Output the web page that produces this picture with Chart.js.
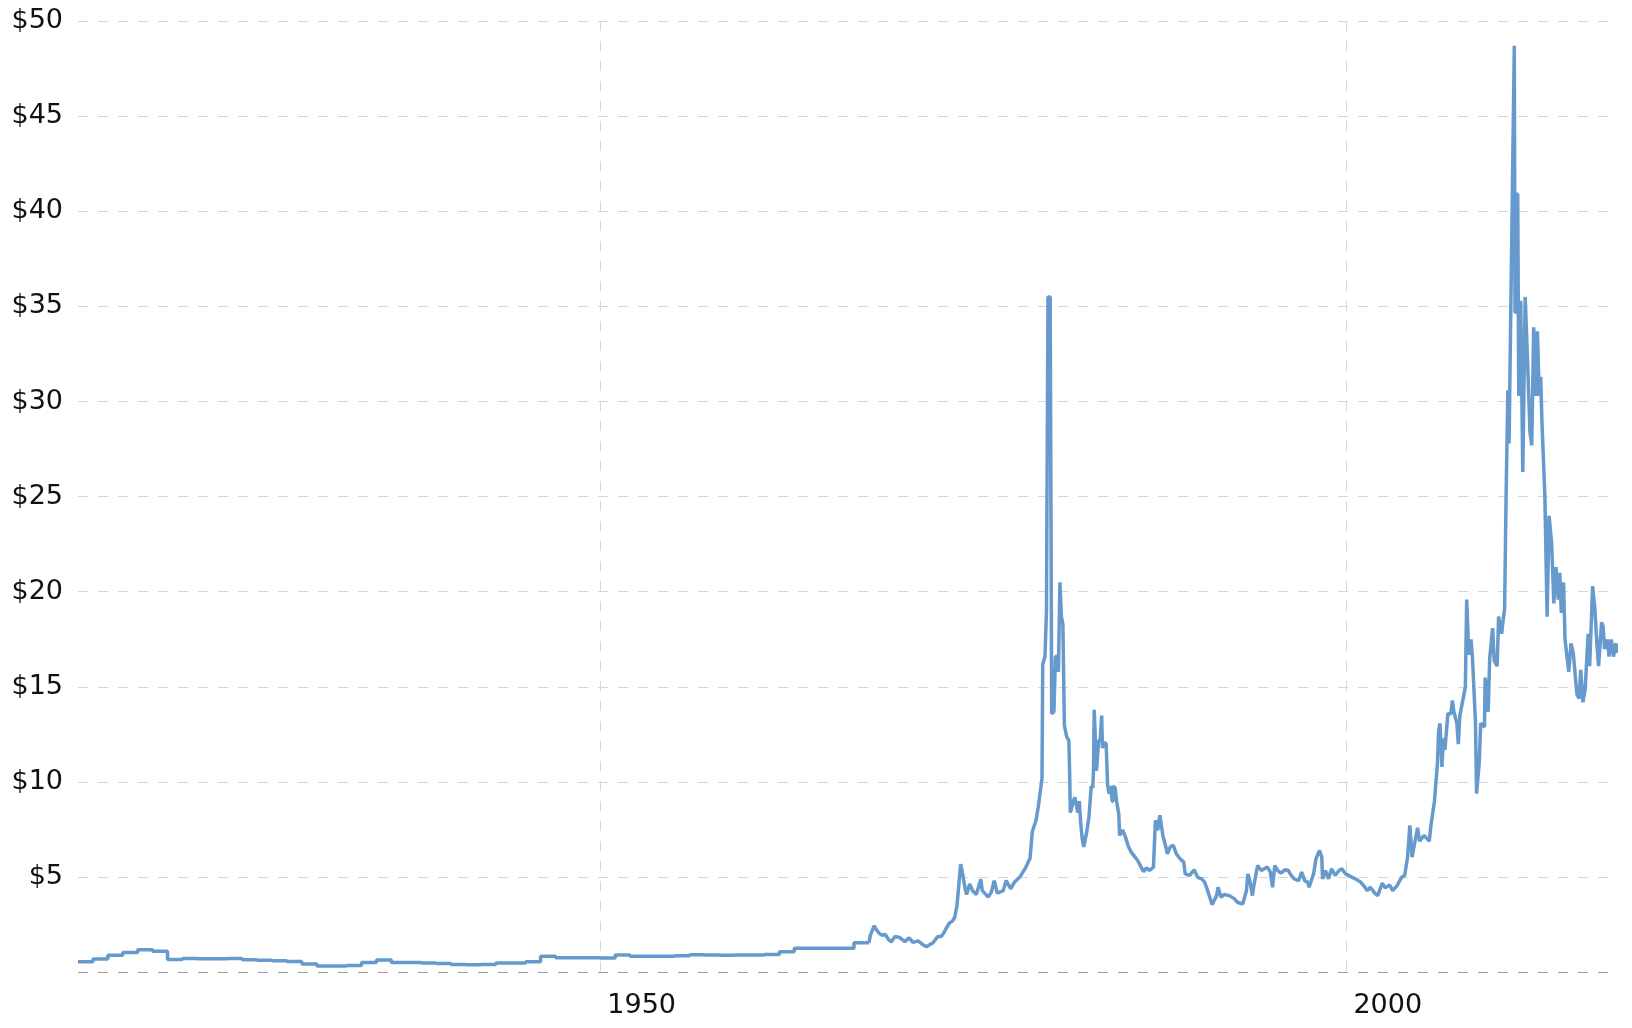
<!DOCTYPE html>
<html>
<head>
<meta charset="utf-8">
<script src="https://cdn.jsdelivr.net/npm/chart.js@4.4.1/dist/chart.umd.min.js"></script>
<style>
  html, body { margin: 0; padding: 0; background: #fff; }
  #wrap { width: 1632px; height: 1028px; }
</style>
</head>
<body>
<div id="wrap"><canvas id="silver-chart"></canvas></div>
<script>
// tick values
const xTicks = [1950, 2000];
const yTicks = [0, 5, 10, 15, 20, 25, 30, 35, 40, 45, 50];

// yearly prices 1915-1968 (drawn as steps)
const annualYears = [1915, 1916, 1917, 1918, 1919, 1920, 1921, 1922, 1923, 1924,
  1925, 1926, 1927, 1928, 1929, 1930, 1931, 1932, 1933, 1934,
  1935, 1936, 1937, 1938, 1939, 1940, 1941, 1942, 1943, 1944,
  1945, 1946, 1947, 1948, 1949, 1950, 1951, 1952, 1953, 1954,
  1955, 1956, 1957, 1958, 1959, 1960, 1961, 1962, 1963, 1964,
  1965, 1966, 1967, 1968];
const annualPrices = [0.56, 0.71, 0.90, 1.05, 1.20, 1.12, 0.68, 0.73, 0.72, 0.72,
  0.73, 0.67, 0.64, 0.62, 0.58, 0.45, 0.34, 0.34, 0.37, 0.52,
  0.66, 0.52, 0.52, 0.50, 0.47, 0.42, 0.41, 0.42, 0.50, 0.50,
  0.56, 0.86, 0.77, 0.78, 0.77, 0.76, 0.92, 0.85, 0.86, 0.86,
  0.88, 0.93, 0.92, 0.90, 0.92, 0.92, 0.94, 1.09, 1.28, 1.28,
  1.28, 1.28, 1.56, 1.56];

// [year, price]
const prices1968 = [[1968.0, 1.56], [1968.1, 1.96], [1968.35, 2.45], [1968.5, 2.25], [1968.7, 2.05],
  [1968.9, 1.96], [1969.1, 2.0], [1969.3, 1.75], [1969.5, 1.6], [1969.75, 1.9], [1970.05, 1.84],
  [1970.4, 1.62], [1970.7, 1.82], [1970.95, 1.58], [1971.3, 1.66], [1971.55, 1.5], [1971.85, 1.35],
  [1972.3, 1.56], [1972.6, 1.88], [1972.85, 1.9], [1973.0, 2.05], [1973.2, 2.35], [1973.4, 2.6],
  [1973.6, 2.7], [1973.75, 2.9], [1973.9, 3.5], [1974.05, 4.8], [1974.15, 5.7], [1974.3, 5.1],
  [1974.45, 4.4], [1974.55, 4.1], [1974.75, 4.65], [1974.95, 4.3], [1975.2, 4.1], [1975.5, 4.9],
  [1975.6, 4.3], [1976.0, 3.96], [1976.2, 4.22], [1976.4, 4.83], [1976.6, 4.17], [1977.0, 4.3],
  [1977.2, 4.83], [1977.5, 4.4], [1977.75, 4.74], [1978.1, 5.0], [1978.5, 5.5], [1978.8, 6.0],
  [1978.95, 7.4], [1979.2, 8.0], [1979.35, 8.7], [1979.45, 9.3], [1979.6, 10.2], [1979.65, 16.2],
  [1979.8, 16.6], [1979.9, 19.0], [1980.0, 35.5], [1980.15, 35.5], [1980.25, 13.6], [1980.4, 13.7],
  [1980.5, 16.6], [1980.6, 16.6], [1980.7, 15.8], [1980.8, 20.5], [1980.9, 18.7], [1981.0, 18.3],
  [1981.1, 13.0], [1981.25, 12.4], [1981.4, 12.2], [1981.45, 10.6], [1981.5, 8.4], [1981.7, 9.0],
  [1981.8, 9.2], [1982.0, 8.4], [1982.1, 9.0], [1982.2, 7.8], [1982.3, 7.0], [1982.4, 6.6],
  [1982.6, 7.4], [1982.75, 8.2], [1982.9, 9.8], [1983.0, 9.7], [1983.05, 10.6], [1983.1, 13.8],
  [1983.25, 10.6], [1983.4, 12.2], [1983.5, 12.2], [1983.6, 13.5], [1983.65, 11.8], [1983.8, 12.1],
  [1983.9, 12.0], [1984.0, 9.8], [1984.1, 9.4], [1984.2, 9.8], [1984.3, 9.0], [1984.35, 9.8],
  [1984.5, 9.7], [1984.6, 9.0], [1984.75, 8.3], [1984.8, 7.2], [1985.0, 7.5], [1985.2, 7.1],
  [1985.4, 6.6], [1985.6, 6.3], [1985.8, 6.1], [1986.0, 5.9], [1986.2, 5.6], [1986.4, 5.3],
  [1986.6, 5.5], [1986.8, 5.36]];

const prices1987 = [[1987.07, 5.54], [1987.2, 8.0], [1987.36, 7.47], [1987.5, 8.26], [1987.7, 7.2],
  [1987.9, 6.6], [1988.0, 6.24], [1988.2, 6.6], [1988.4, 6.68], [1988.6, 6.24], [1988.85, 5.98],
  [1989.1, 5.8], [1989.2, 5.18], [1989.5, 5.1], [1989.8, 5.4], [1990.03, 5.0], [1990.3, 4.92],
  [1990.5, 4.75], [1990.7, 4.3], [1991.0, 3.57], [1991.3, 4.04], [1991.4, 4.48], [1991.6, 3.95],
  [1991.8, 4.1], [1992.16, 4.04], [1992.5, 3.87], [1992.7, 3.69], [1993.05, 3.6], [1993.3, 4.3],
  [1993.4, 5.18], [1993.55, 4.75], [1993.7, 4.04], [1993.8, 4.57], [1994.05, 5.62], [1994.3, 5.36],
  [1994.5, 5.45], [1994.7, 5.54], [1994.9, 5.27], [1995.05, 4.48], [1995.2, 5.62], [1995.4, 5.36],
  [1995.6, 5.22], [1995.9, 5.4], [1996.1, 5.36], [1996.3, 5.1], [1996.5, 4.92], [1996.8, 4.83],
  [1997.0, 5.27], [1997.2, 4.83], [1997.4, 4.75], [1997.5, 4.48], [1997.8, 5.18], [1997.96, 5.98],
  [1998.2, 6.41], [1998.35, 6.06], [1998.4, 4.92], [1998.6, 5.36], [1998.8, 4.92], [1999.0, 5.45],
  [1999.25, 5.1], [1999.5, 5.36], [1999.7, 5.45], [1999.95, 5.18], [2000.3, 5.04], [2000.6, 4.92],
  [2000.95, 4.75], [2001.2, 4.52], [2001.4, 4.3], [2001.6, 4.48], [2001.9, 4.17], [2002.1, 4.04],
  [2002.4, 4.7], [2002.6, 4.45], [2002.9, 4.6], [2003.1, 4.3], [2003.4, 4.57], [2003.7, 5.0],
  [2003.9, 5.1], [2004.1, 6.06], [2004.25, 7.73], [2004.4, 6.06]];

const prices2004 = [[2004.55, 6.7], [2004.77, 7.6], [2004.9, 6.9], [2005.2, 7.2], [2005.55, 6.9],
  [2005.66, 7.7], [2005.9, 9.0], [2006.1, 11.0], [2006.18, 12.7], [2006.27, 13.1], [2006.4, 10.8],
  [2006.5, 12.3], [2006.6, 11.7], [2006.8, 13.6], [2007.0, 13.6], [2007.1, 14.3], [2007.2, 13.7],
  [2007.4, 13.1], [2007.5, 12.0], [2007.6, 13.5], [2007.8, 14.3], [2007.97, 15.0], [2008.06, 19.6],
  [2008.2, 16.7], [2008.35, 17.5], [2008.45, 16.5], [2008.65, 13.1], [2008.72, 9.4], [2008.9, 11.0],
  [2009.0, 13.1], [2009.25, 12.9], [2009.3, 15.5], [2009.5, 13.7], [2009.6, 16.5], [2009.8, 18.1],
  [2009.9, 16.4], [2010.1, 16.1], [2010.2, 18.7], [2010.4, 17.8], [2010.5, 18.5], [2010.6, 19.1],
  [2010.7, 25.0], [2010.82, 30.6], [2010.9, 27.8], [2011.25, 48.7], [2011.3, 34.7], [2011.35, 40.9],
  [2011.48, 40.9], [2011.55, 30.3], [2011.68, 35.3], [2011.82, 26.3], [2011.98, 35.5], [2012.15, 31.9],
  [2012.3, 28.4], [2012.42, 27.7], [2012.55, 33.9], [2012.68, 30.3], [2012.8, 33.7], [2012.92, 30.3],
  [2013.02, 31.3], [2013.1, 29.0], [2013.3, 25.0], [2013.45, 18.7], [2013.58, 24.0], [2013.75, 22.6],
  [2013.9, 19.4], [2014.05, 21.3], [2014.2, 19.6], [2014.3, 21.0], [2014.4, 18.9], [2014.55, 20.5],
  [2014.65, 17.5], [2014.9, 15.8], [2015.05, 17.3], [2015.2, 16.8], [2015.45, 14.6], [2015.6, 14.4],
  [2015.7, 15.9], [2015.85, 14.2], [2016.0, 14.9], [2016.2, 17.8], [2016.3, 16.1], [2016.5, 20.3],
  [2016.65, 19.1], [2016.8, 17.1], [2016.9, 16.1], [2017.1, 18.4], [2017.2, 18.2], [2017.3, 17.0],
  [2017.5, 17.5], [2017.6, 16.6], [2017.75, 17.5], [2017.9, 16.6], [2018.05, 17.3], [2018.2, 16.8]];

const lineColor = '#6699cc';
const gridLight = '#d6d6d6';
const gridZero = '#9a9a9a';
const tickFont = { family: 'DejaVu Sans', size: 27 };

const annualData = annualYears.map((yr, i) => ({ x: yr, y: annualPrices[i] }));
const monthlyData = prices1968.concat(prices1987, prices2004).map(p => ({ x: p[0], y: p[1] }));

const lineStyle = {
    borderColor: lineColor,
    borderWidth: 3.5,
    borderJoinStyle: 'bevel',
    pointRadius: 0,
    fill: false,
    tension: 0
};

// drop the extra room Chart.js keeps for the end labels
function noEdgePadding(s) {
    s.paddingTop = 0;
    s.paddingBottom = 0;
    s.paddingLeft = 0;
    s.paddingRight = 0;
}

new Chart(document.getElementById('silver-chart'), {
    type: 'line',
    data: {
        datasets: [
            Object.assign({ label: 'Silver (annual)', data: annualData, stepped: true }, lineStyle),
            Object.assign({ label: 'Silver', data: monthlyData }, lineStyle)
        ]
    },
    options: {
        responsive: true,
        maintainAspectRatio: false,
        animation: false,
        layout: { padding: { top: 21, right: 14, left: 0, bottom: 0 } },
        plugins: {
            legend: { display: false },
            tooltip: { enabled: false }
        },
        scales: {
            x: {
                type: 'linear',
                min: 1915,
                max: 2018.2,
                afterBuildTicks: s => { s.ticks = xTicks.map(v => ({ value: v })); },
                afterFit: s => { s.height = 55.5; noEdgePadding(s); },
                grid: { color: gridLight, lineWidth: 1, drawTicks: false },
                border: { display: false, dash: [10, 10] },
                ticks: {
                    align: 'start',
                    labelOffset: 7,
                    padding: 17,
                    color: '#111',
                    font: tickFont,
                    callback: v => String(v)
                }
            },
            y: {
                min: 0,
                max: 50,
                afterBuildTicks: s => { s.ticks = yTicks.map(v => ({ value: v })); },
                afterFit: s => { s.width = 78; noEdgePadding(s); },
                grid: {
                    color: c => (c.tick && c.tick.value === 0) ? gridZero : gridLight,
                    lineWidth: 1,
                    drawTicks: false
                },
                border: { display: false, dash: [10, 10] },
                ticks: {
                    padding: 15,
                    color: '#111',
                    font: tickFont,
                    callback: v => v === 0 ? '' : '$' + v
                }
            }
        }
    }
});
</script>
</body>
</html>
